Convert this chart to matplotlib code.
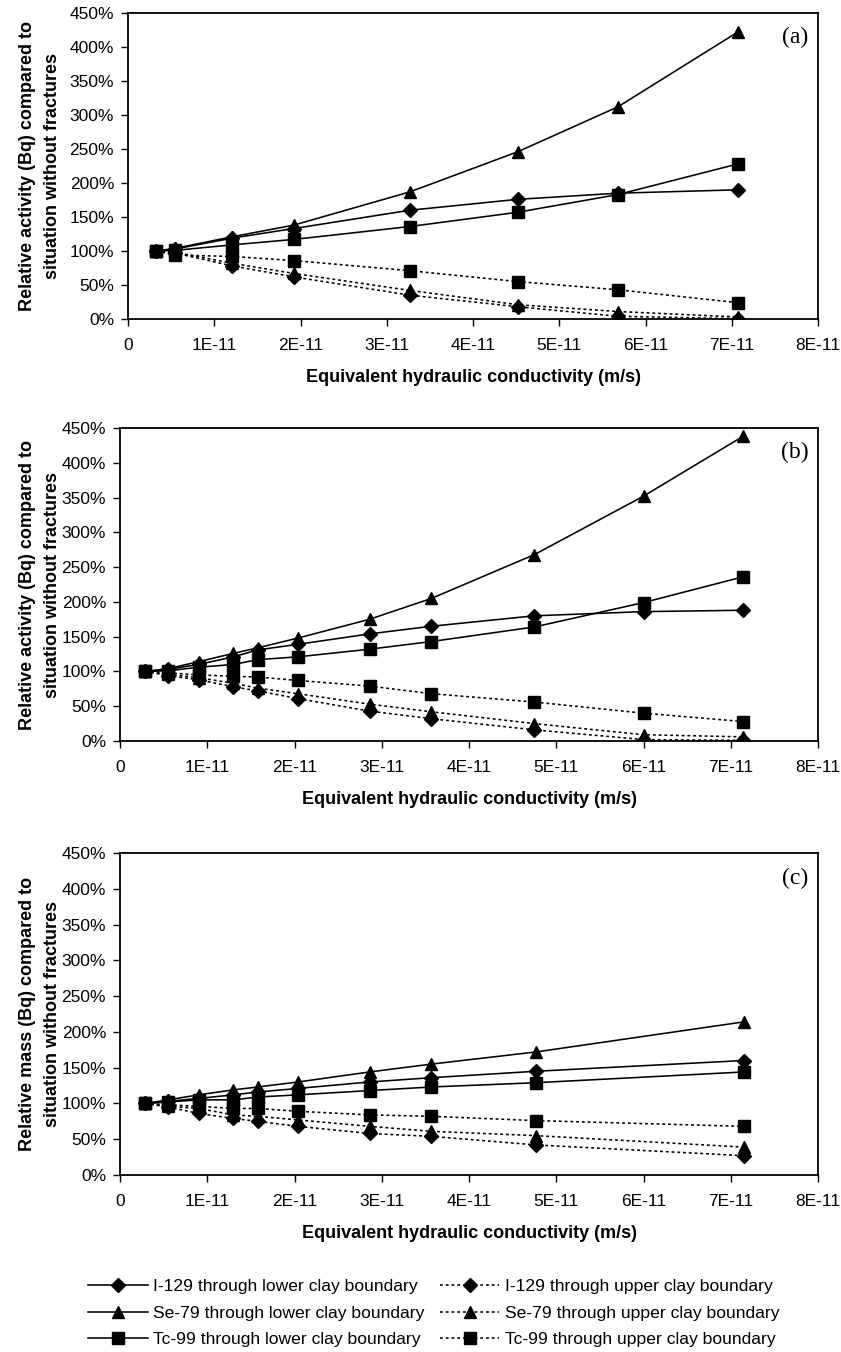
import matplotlib
matplotlib.use("Agg")
import matplotlib.pyplot as plt
import numpy as np

# ---------------- data ----------------
# Panel (a): x in units of 1E-11 m/s, y in %
xa = [0.33, 0.55, 1.21, 1.92, 3.27, 4.52, 5.68, 7.07]
a_I_low = [100, 103, 119, 133, 160, 176, 185, 190]
a_Se_low = [100, 104, 121, 138, 187, 246, 312, 422]
a_Tc_low = [100, 101, 109, 117, 136, 157, 183, 228]
a_I_up = [100, 97, 78, 62, 35, 18, 4, 0.5]
a_Se_up = [100, 98, 82, 67, 42, 21, 11, 3]
a_Tc_up = [100, 94, 92, 86, 71, 55, 43, 24]

# Panel (b)
xb = [0.29, 0.55, 0.90, 1.30, 1.58, 2.04, 2.86, 3.57, 4.75, 6.00, 7.14]
b_I_low = [100, 103, 110, 121, 131, 139, 154, 165, 180, 186, 188]
b_Se_low = [100, 104, 114, 126, 134, 148, 175, 205, 268, 352, 438]
b_Tc_low = [100, 101, 106, 110, 117, 121, 132, 143, 164, 199, 236]
b_I_up = [100, 94, 88, 78, 72, 61, 43, 32, 16, 2, 1]
b_Se_up = [100, 96, 91, 83, 76, 68, 53, 42, 25, 9, 6]
b_Tc_up = [100, 98, 95, 93, 92, 87, 79, 68, 56, 40, 28]

# Panel (c)
xc = [0.29, 0.55, 0.90, 1.30, 1.58, 2.04, 2.86, 3.57, 4.77, 7.15]
c_I_low = [100, 103, 107, 112, 116, 121, 130, 136, 145, 160]
c_Se_low = [100, 105, 112, 119, 123, 130, 144, 155, 172, 214]
c_Tc_low = [100, 102, 105, 105, 109, 112, 118, 123, 129, 144]
c_I_up = [100, 95, 86, 79, 75, 68, 58, 54, 42, 27]
c_Se_up = [100, 96, 93, 84, 82, 77, 68, 61, 55, 39]
c_Tc_up = [100, 98, 96, 93, 93, 89, 84, 82, 76, 68]

x_ticks = [0, 1, 2, 3, 4, 5, 6, 7, 8]
x_tick_labels = ["0", "1E-11", "2E-11", "3E-11", "4E-11", "5E-11", "6E-11", "7E-11", "8E-11"]
y_ticks = [0, 50, 100, 150, 200, 250, 300, 350, 400, 450]
y_tick_labels = ["%d%%" % v for v in y_ticks]

series_labels = [
    "I-129 through lower clay boundary",
    "Se-79 through lower clay boundary",
    "Tc-99 through lower clay boundary",
    "I-129 through upper clay boundary",
    "Se-79 through upper clay boundary",
    "Tc-99 through upper clay boundary",
]
xlabel = "Equivalent hydraulic conductivity (m/s)"
ylabels = [
    "Relative activity (Bq) compared to\nsituation without fractures",
    "Relative activity (Bq) compared to\nsituation without fractures",
    "Relative mass (Bq) compared to\nsituation without fractures",
]
panel_tags = ["(a)", "(b)", "(c)"]

# ---------------- figure ----------------
W, H = 841, 1352
fig = plt.figure(figsize=(W / 100, H / 100), dpi=100)
plt.rcParams["font.family"] = ["Liberation Sans", "DejaVu Sans"]


def add_ax(left, right, top, bottom):
    return fig.add_axes([left / W, 1 - bottom / H, (right - left) / W, (bottom - top) / H])


axes_px = [(128, 818, 13, 319), (120, 818, 428, 741), (120, 818, 853, 1175)]
panels = [
    (xa, [a_I_low, a_Se_low, a_Tc_low, a_I_up, a_Se_up, a_Tc_up]),
    (xb, [b_I_low, b_Se_low, b_Tc_low, b_I_up, b_Se_up, b_Tc_up]),
    (xc, [c_I_low, c_Se_low, c_Tc_low, c_I_up, c_Se_up, c_Tc_up]),
]
markers = ["D", "^", "s", "D", "^", "s"]
msizes = [6.8, 8.5, 8.3, 6.8, 8.5, 8.3]
dotted = (0, (1.8, 1.8))
styles = ["-", "-", "-", dotted, dotted, dotted]

handles = []
for i, ((xs, ys_list), px) in enumerate(zip(panels, axes_px)):
    left, right, top, bottom = px
    ax = add_ax(*px)
    xs_arr = np.array(xs)
    hs = []
    for ys, m, ms, ls in zip(ys_list, markers, msizes, styles):
        h, = ax.plot(xs_arr, ys, color="black", linestyle=ls, lw=1.15,
                     marker=m, markersize=ms, markerfacecolor="black",
                     markeredgecolor="black")
        hs.append(h)
    if i == 0:
        handles = hs
    ax.set_xlim(0, 8)
    ax.set_ylim(0, 450)
    ax.set_xticks(x_ticks)
    ax.set_xticklabels(x_tick_labels)
    ax.set_yticks(y_ticks)
    ax.set_yticklabels(y_tick_labels)
    ax.tick_params(direction="out", length=5, width=1, labelsize=12.5, pad=5)
    ax.tick_params(axis="x", pad=9)
    for sp in ax.spines.values():
        sp.set_linewidth(1.3)
    ax.set_xlabel(xlabel, fontsize=13, fontweight="bold")
    ax.xaxis.label.set_va("center")
    ax.xaxis.set_label_coords(0.5, -(58.0) / (bottom - top))
    ax.set_ylabel(ylabels[i], fontsize=13, fontweight="bold", linespacing=1.6)
    ax.yaxis.label.set_va("center")
    ax.yaxis.set_label_coords((40.0 - left) / (right - left), 0.5)
    ax.text(0.986, 0.955, panel_tags[i], transform=ax.transAxes, ha="right", va="top",
            fontsize=17, family="Liberation Serif")

leg = fig.legend(handles, series_labels, loc="center left",
                 bbox_to_anchor=(88 / W, 1 - 1313 / H),
                 ncol=2, frameon=False, fontsize=12.6, handlelength=3.4,
                 columnspacing=0.9, labelspacing=0.63, handletextpad=0.3,
                 borderpad=0, borderaxespad=0)

fig.savefig("out.png", dpi=100)
